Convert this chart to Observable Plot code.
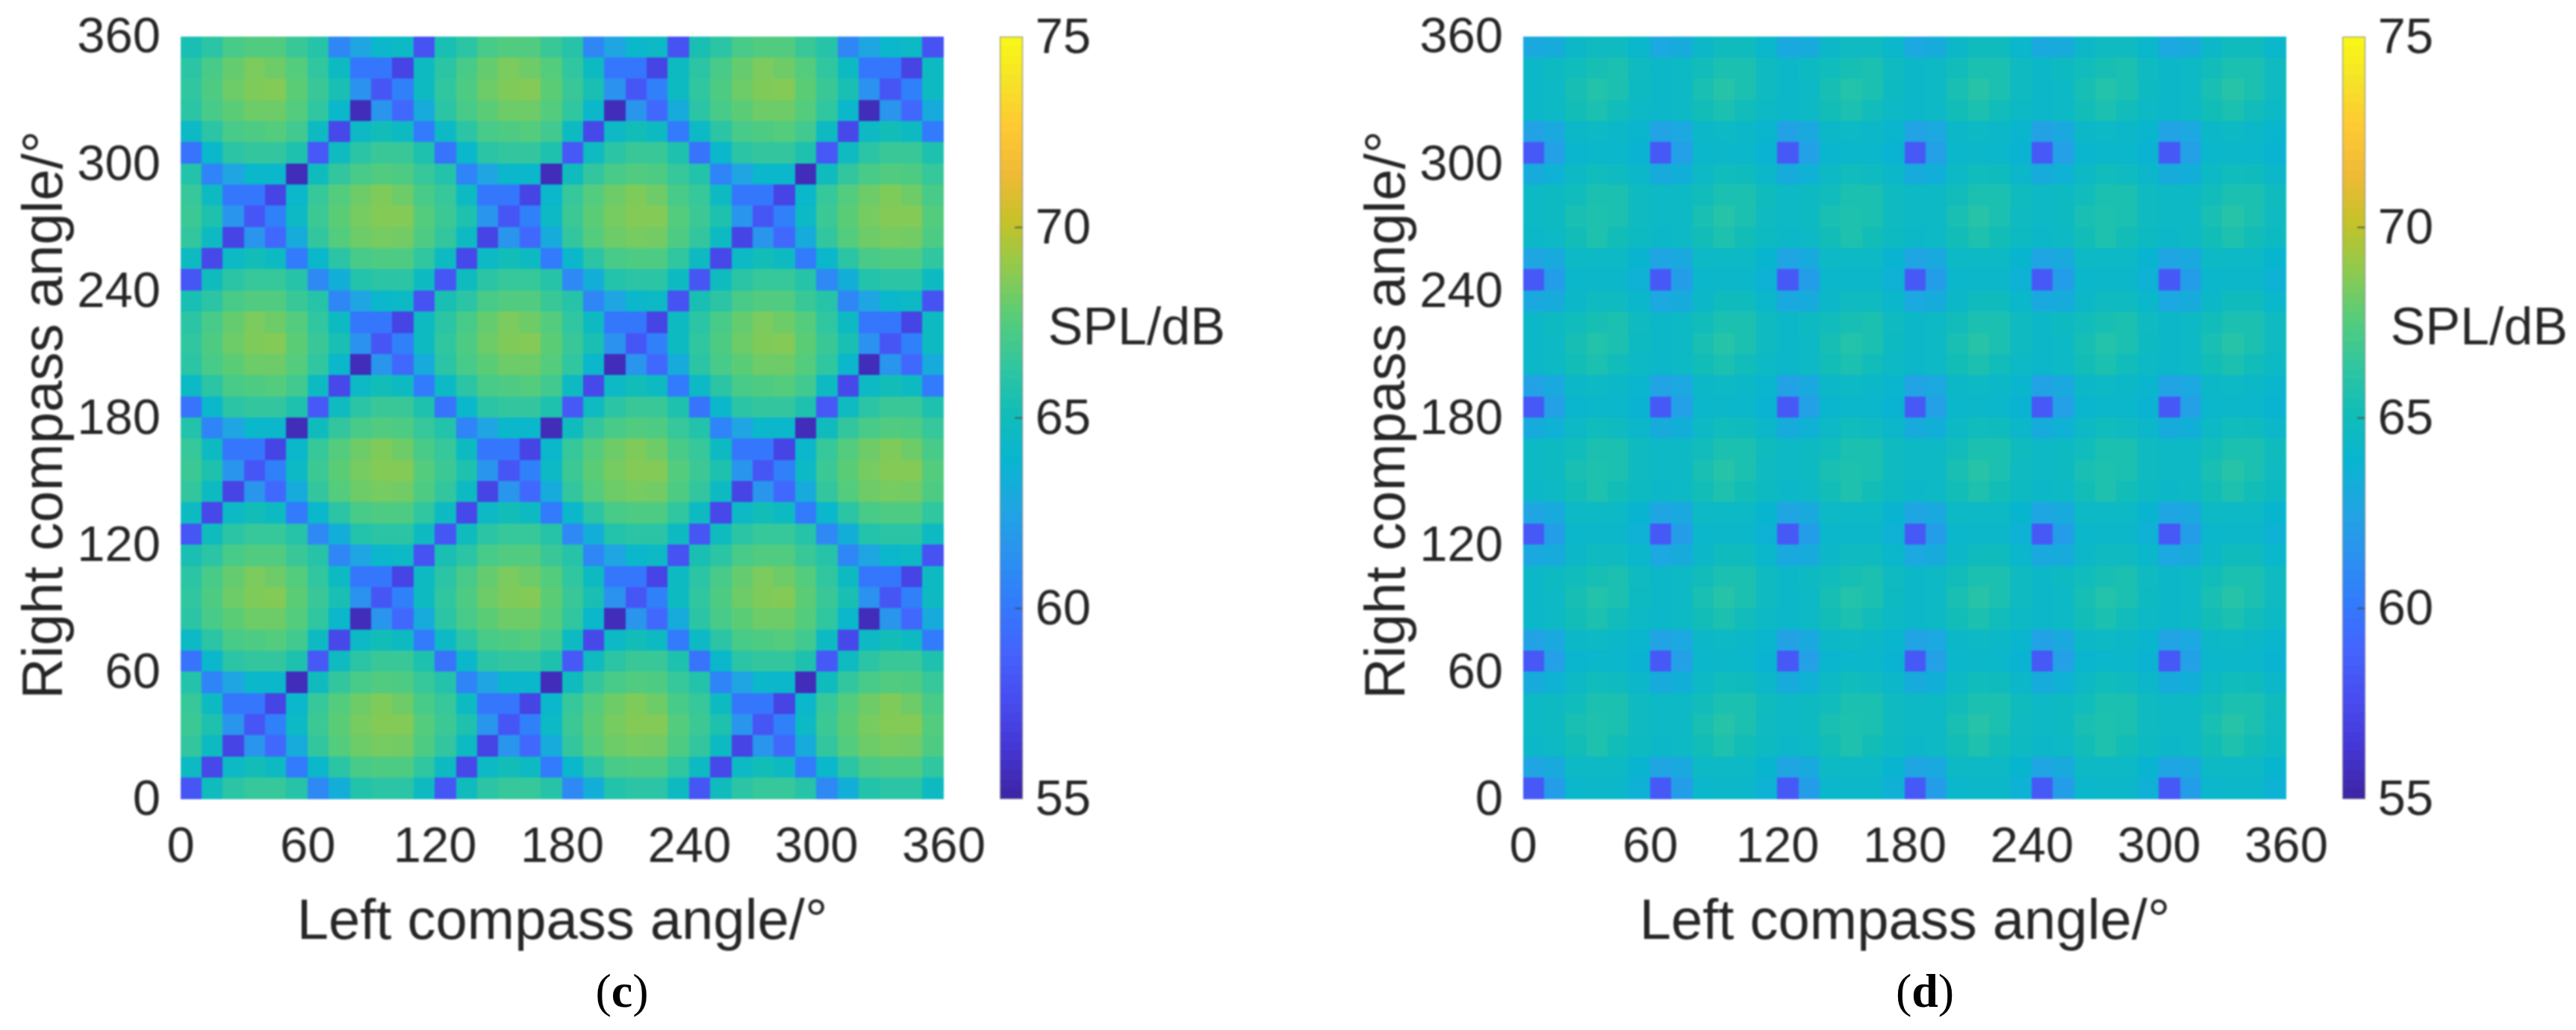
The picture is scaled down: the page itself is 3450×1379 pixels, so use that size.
<!DOCTYPE html>
<html><head><meta charset="utf-8">
<script src="https://cdn.jsdelivr.net/npm/d3@7"></script>
<script src="https://cdn.jsdelivr.net/npm/@observablehq/plot@0.6"></script>
<style>
html,body{margin:0;padding:0;background:#fff;width:3450px;height:1379px;overflow:hidden}
.p{position:absolute;top:0}
.p svg{overflow:visible;max-width:none;filter:blur(.9px)}
.cap{position:absolute;top:1290px;font:64px "Liberation Serif",serif;color:#000;transform:translateX(-50%);filter:blur(.5px)}
</style></head><body>
<script>
const angleTicks = [0,60,120,180,240,300,360];
const colorTicks = [55,60,65,70,75];
const innerTicks = [60,65,70];
const parula = ["#3e26a8","#4537d5","#474df0","#4563fd","#327bfc","#2b91ef","#20a5e3","#08b5d0","#12bdb8","#31c69f","#57cc7a","#8fca4e","#c5c22a","#efba36","#fec934","#f5e327","#f9fb14"];

// SPL/dB by cell; rows run from 350–360° at the top to 0–10° at the bottom, columns from 0° to 360°.
const panelC = [
[65.3,66,67,67.3,67.3,66.5,65.8,60.7,62.5,64,64.3,57.8,65.3,66,67,67.3,67.3,66.5,65.8,60.7,62.5,64,64.3,57.8,65.3,66,67,67.3,67.3,66.5,65.8,60.7,62.5,64,64.3,57.8],
[66,67,67.8,68.3,68,67.4,66.2,64.5,59.8,59.8,57,64.5,66,67,67.8,68.3,68,67.4,66.2,64.5,59.8,59.8,57,64.5,66,67,67.8,68.3,68,67.4,66.2,64.5,59.8,59.8,57,64.5],
[66.2,67.2,68,68.4,68.5,67.6,66.5,65.3,61.3,58,60.3,64.5,66.2,67.2,68,68.4,68.5,67.6,66.5,65.3,61.3,58,60.3,64.5,66.2,67.2,68,68.4,68.5,67.6,66.5,65.3,61.3,58,60.3,64.5],
[66,67,67.6,68,68,67.4,66.2,64,55.5,61.5,59,63,66,67,67.6,68,68,67.4,66.2,64,55.5,61.5,59,63,66,67,67.6,68,68,67.4,66.2,64,55.5,61.5,59,63],
[64.3,66,67,67.2,67.4,66.8,64.5,57.2,64.3,65,64.5,60,64.3,66,67,67.2,67.4,66.8,64.5,57.2,64.3,65,64.5,60,64.3,66,67,67.2,67.4,66.8,64.5,57.2,64.3,65,64.5,60],
[59.6,64,66,66.3,66.3,65.5,58.2,64.6,66,66.5,66.5,65.5,59.6,64,66,66.3,66.3,65.5,58.2,64.6,66,66.5,66.5,65.5,59.6,64,66,66.3,66.3,65.5,58.2,64.6,66,66.5,66.5,65.5],
[65.7,60.5,62.5,64,64,55.5,64.7,66.3,67,67.3,67.2,66.4,65.7,60.5,62.5,64,64,55.5,64.7,66.3,67,67.3,67.2,66.4,65.7,60.5,62.5,64,64,55.5,64.7,66.3,67,67.3,67.2,66.4],
[66.4,64.5,59.8,59.8,57,64,66.4,67.4,68,68.4,68,67,66.4,64.5,59.8,59.8,57,64,66.4,67.4,68,68.4,68,67,66.4,64.5,59.8,59.8,57,64,66.4,67.4,68,68.4,68,67],
[66.6,65.5,61.5,58,60.3,64.3,66.6,67.6,68.2,68.5,68.5,67.4,66.6,65.5,61.5,58,60.3,64.3,66.6,67.6,68.2,68.5,68.5,67.4,66.6,65.5,61.5,58,60.3,64.3,66.6,67.6,68.2,68.5,68.5,67.4],
[66.3,64.5,57,61.5,59,63,66.3,67.4,68,68.2,68.1,67.2,66.3,64.5,57,61.5,59,63,66.3,67.4,68,68.2,68.1,67.2,66.3,64.5,57,61.5,59,63,66.3,67.4,68,68.2,68.1,67.2],
[64.5,57.2,64.3,65,64.5,60,64,66,67,67.2,67.2,66.2,64.5,57.2,64.3,65,64.5,60,64,66,67,67.2,67.2,66.2,64.5,57.2,64.3,65,64.5,60,64,66,67,67.2,67.2,66.2],
[58,64.7,66,66.4,66.4,65.8,60.8,63.2,65.7,66,66,64.5,58,64.7,66,66.4,66.4,65.8,60.8,63.2,65.7,66,66,64.5,58,64.7,66,66.4,66.4,65.8,60.8,63.2,65.7,66,66,64.5],
[65.3,66,67,67.3,67.3,66.5,65.8,60.7,62.5,64,64.3,57.8,65.3,66,67,67.3,67.3,66.5,65.8,60.7,62.5,64,64.3,57.8,65.3,66,67,67.3,67.3,66.5,65.8,60.7,62.5,64,64.3,57.8],
[66,67,67.8,68.3,68,67.4,66.2,64.5,59.8,59.8,57,64.5,66,67,67.8,68.3,68,67.4,66.2,64.5,59.8,59.8,57,64.5,66,67,67.8,68.3,68,67.4,66.2,64.5,59.8,59.8,57,64.5],
[66.2,67.2,68,68.4,68.5,67.6,66.5,65.3,61.3,58,60.3,64.5,66.2,67.2,68,68.4,68.5,67.6,66.5,65.3,61.3,58,60.3,64.5,66.2,67.2,68,68.4,68.5,67.6,66.5,65.3,61.3,58,60.3,64.5],
[66,67,67.6,68,68,67.4,66.2,64,55.5,61.5,59,63,66,67,67.6,68,68,67.4,66.2,64,55.5,61.5,59,63,66,67,67.6,68,68,67.4,66.2,64,55.5,61.5,59,63],
[64.3,66,67,67.2,67.4,66.8,64.5,57.2,64.3,65,64.5,60,64.3,66,67,67.2,67.4,66.8,64.5,57.2,64.3,65,64.5,60,64.3,66,67,67.2,67.4,66.8,64.5,57.2,64.3,65,64.5,60],
[59.6,64,66,66.3,66.3,65.5,58.2,64.6,66,66.5,66.5,65.5,59.6,64,66,66.3,66.3,65.5,58.2,64.6,66,66.5,66.5,65.5,59.6,64,66,66.3,66.3,65.5,58.2,64.6,66,66.5,66.5,65.5],
[65.7,60.5,62.5,64,64,55.5,64.7,66.3,67,67.3,67.2,66.4,65.7,60.5,62.5,64,64,55.5,64.7,66.3,67,67.3,67.2,66.4,65.7,60.5,62.5,64,64,55.5,64.7,66.3,67,67.3,67.2,66.4],
[66.4,64.5,59.8,59.8,57,64,66.4,67.4,68,68.4,68,67,66.4,64.5,59.8,59.8,57,64,66.4,67.4,68,68.4,68,67,66.4,64.5,59.8,59.8,57,64,66.4,67.4,68,68.4,68,67],
[66.6,65.5,61.5,58,60.3,64.3,66.6,67.6,68.2,68.5,68.5,67.4,66.6,65.5,61.5,58,60.3,64.3,66.6,67.6,68.2,68.5,68.5,67.4,66.6,65.5,61.5,58,60.3,64.3,66.6,67.6,68.2,68.5,68.5,67.4],
[66.3,64.5,57,61.5,59,63,66.3,67.4,68,68.2,68.1,67.2,66.3,64.5,57,61.5,59,63,66.3,67.4,68,68.2,68.1,67.2,66.3,64.5,57,61.5,59,63,66.3,67.4,68,68.2,68.1,67.2],
[64.5,57.2,64.3,65,64.5,60,64,66,67,67.2,67.2,66.2,64.5,57.2,64.3,65,64.5,60,64,66,67,67.2,67.2,66.2,64.5,57.2,64.3,65,64.5,60,64,66,67,67.2,67.2,66.2],
[58,64.7,66,66.4,66.4,65.8,60.8,63.2,65.7,66,66,64.5,58,64.7,66,66.4,66.4,65.8,60.8,63.2,65.7,66,66,64.5,58,64.7,66,66.4,66.4,65.8,60.8,63.2,65.7,66,66,64.5],
[65.3,66,67,67.3,67.3,66.5,65.8,60.7,62.5,64,64.3,57.8,65.3,66,67,67.3,67.3,66.5,65.8,60.7,62.5,64,64.3,57.8,65.3,66,67,67.3,67.3,66.5,65.8,60.7,62.5,64,64.3,57.8],
[66,67,67.8,68.3,68,67.4,66.2,64.5,59.8,59.8,57,64.5,66,67,67.8,68.3,68,67.4,66.2,64.5,59.8,59.8,57,64.5,66,67,67.8,68.3,68,67.4,66.2,64.5,59.8,59.8,57,64.5],
[66.2,67.2,68,68.4,68.5,67.6,66.5,65.3,61.3,58,60.3,64.5,66.2,67.2,68,68.4,68.5,67.6,66.5,65.3,61.3,58,60.3,64.5,66.2,67.2,68,68.4,68.5,67.6,66.5,65.3,61.3,58,60.3,64.5],
[66,67,67.6,68,68,67.4,66.2,64,55.5,61.5,59,63,66,67,67.6,68,68,67.4,66.2,64,55.5,61.5,59,63,66,67,67.6,68,68,67.4,66.2,64,55.5,61.5,59,63],
[64.3,66,67,67.2,67.4,66.8,64.5,57.2,64.3,65,64.5,60,64.3,66,67,67.2,67.4,66.8,64.5,57.2,64.3,65,64.5,60,64.3,66,67,67.2,67.4,66.8,64.5,57.2,64.3,65,64.5,60],
[59.6,64,66,66.3,66.3,65.5,58.2,64.6,66,66.5,66.5,65.5,59.6,64,66,66.3,66.3,65.5,58.2,64.6,66,66.5,66.5,65.5,59.6,64,66,66.3,66.3,65.5,58.2,64.6,66,66.5,66.5,65.5],
[65.7,60.5,62.5,64,64,55.5,64.7,66.3,67,67.3,67.2,66.4,65.7,60.5,62.5,64,64,55.5,64.7,66.3,67,67.3,67.2,66.4,65.7,60.5,62.5,64,64,55.5,64.7,66.3,67,67.3,67.2,66.4],
[66.4,64.5,59.8,59.8,57,64,66.4,67.4,68,68.4,68,67,66.4,64.5,59.8,59.8,57,64,66.4,67.4,68,68.4,68,67,66.4,64.5,59.8,59.8,57,64,66.4,67.4,68,68.4,68,67],
[66.6,65.5,61.5,58,60.3,64.3,66.6,67.6,68.2,68.5,68.5,67.4,66.6,65.5,61.5,58,60.3,64.3,66.6,67.6,68.2,68.5,68.5,67.4,66.6,65.5,61.5,58,60.3,64.3,66.6,67.6,68.2,68.5,68.5,67.4],
[66.3,64.5,57,61.5,59,63,66.3,67.4,68,68.2,68.1,67.2,66.3,64.5,57,61.5,59,63,66.3,67.4,68,68.2,68.1,67.2,66.3,64.5,57,61.5,59,63,66.3,67.4,68,68.2,68.1,67.2],
[64.5,57.2,64.3,65,64.5,60,64,66,67,67.2,67.2,66.2,64.5,57.2,64.3,65,64.5,60,64,66,67,67.2,67.2,66.2,64.5,57.2,64.3,65,64.5,60,64,66,67,67.2,67.2,66.2],
[58,64.7,66,66.4,66.4,65.8,60.8,63.2,65.7,66,66,64.5,58,64.7,66,66.4,66.4,65.8,60.8,63.2,65.7,66,66,64.5,58,64.7,66,66.4,66.4,65.8,60.8,63.2,65.7,66,66,64.5]
];

const panelD = [
[62.8,63,64.2,64.6,64.6,64,62.7,63,64.2,64.7,64.7,64,62.8,63,64.2,64.6,64.6,64,62.7,63,64.2,64.7,64.7,64,62.8,63,64.2,64.6,64.6,64,62.7,63,64.2,64.7,64.7,64],
[64.2,64.5,64.8,65.2,65.4,64.6,64.2,64.4,64.9,65.4,65.4,64.6,64.2,64.5,64.8,65.2,65.4,64.6,64.2,64.4,64.9,65.4,65.4,64.6,64.2,64.5,64.8,65.2,65.4,64.6,64.2,64.4,64.9,65.4,65.4,64.6],
[64.2,64.4,65.2,65.7,65.4,64.5,64.2,64.4,65.3,65.8,65.4,64.6,64.2,64.4,65.2,65.7,65.4,64.5,64.2,64.4,65.3,65.8,65.4,64.6,64.2,64.4,65.2,65.7,65.4,64.5,64.2,64.4,65.3,65.8,65.4,64.6],
[64.1,64.3,65,65.4,64.9,64.4,64.1,64.3,65,65.4,64.9,64.4,64.1,64.3,65,65.4,64.9,64.4,64.1,64.3,65,65.4,64.9,64.4,64.1,64.3,65,65.4,64.9,64.4,64.1,64.3,65,65.4,64.9,64.4],
[62.3,62.8,64.2,64.3,64.2,63.9,62.4,62.7,64.2,64.4,64.2,63.9,62.3,62.8,64.2,64.3,64.2,63.9,62.4,62.7,64.2,64.4,64.2,63.9,62.3,62.8,64.2,64.3,64.2,63.9,62.4,62.7,64.2,64.4,64.2,63.9],
[58.2,62.2,63.9,64,64,63.6,58.2,62.2,64,64.1,64,63.6,58.2,62.2,63.9,64,64,63.6,58.2,62.2,64,64.1,64,63.6,58.2,62.2,63.9,64,64,63.6,58.2,62.2,64,64.1,64,63.6],
[63,63.4,64.4,64.8,64.6,64.1,63,63.3,64.4,64.8,64.7,64.1,63,63.4,64.4,64.8,64.6,64.1,63,63.3,64.4,64.8,64.7,64.1,63,63.4,64.4,64.8,64.6,64.1,63,63.3,64.4,64.8,64.7,64.1],
[64.3,64.5,64.8,65.4,65.4,64.6,64.3,64.4,64.9,65.4,65.4,64.7,64.3,64.5,64.8,65.4,65.4,64.6,64.3,64.4,64.9,65.4,65.4,64.7,64.3,64.5,64.8,65.4,65.4,64.6,64.3,64.4,64.9,65.4,65.4,64.7],
[64.3,64.5,65.3,65.5,65.4,64.6,64.3,64.4,65.3,65.8,65.4,64.6,64.3,64.5,65.3,65.5,65.4,64.6,64.3,64.4,65.3,65.8,65.4,64.6,64.3,64.5,65.3,65.5,65.4,64.6,64.3,64.4,65.3,65.8,65.4,64.6],
[64.2,64.4,65,65.5,65,64.5,64.2,64.4,65,65.5,65,64.5,64.2,64.4,65,65.5,65,64.5,64.2,64.4,65,65.5,65,64.5,64.2,64.4,65,65.5,65,64.5,64.2,64.4,65,65.5,65,64.5],
[62.5,62.9,64.3,64.4,64.3,63.7,62.5,62.8,64.3,64.4,64.3,63.8,62.5,62.9,64.3,64.4,64.3,63.7,62.5,62.8,64.3,64.4,64.3,63.8,62.5,62.9,64.3,64.4,64.3,63.7,62.5,62.8,64.3,64.4,64.3,63.8],
[58.2,62,64,64.1,64.1,63.4,58.2,62,64,64.1,64.1,63.5,58.2,62,64,64.1,64.1,63.4,58.2,62,64,64.1,64.1,63.5,58.2,62,64,64.1,64.1,63.4,58.2,62,64,64.1,64.1,63.5],
[62.8,63,64.2,64.6,64.6,64,62.7,63,64.2,64.7,64.7,64,62.8,63,64.2,64.6,64.6,64,62.7,63,64.2,64.7,64.7,64,62.8,63,64.2,64.6,64.6,64,62.7,63,64.2,64.7,64.7,64],
[64.2,64.5,64.8,65.2,65.4,64.6,64.2,64.4,64.9,65.4,65.4,64.6,64.2,64.5,64.8,65.2,65.4,64.6,64.2,64.4,64.9,65.4,65.4,64.6,64.2,64.5,64.8,65.2,65.4,64.6,64.2,64.4,64.9,65.4,65.4,64.6],
[64.2,64.4,65.2,65.7,65.4,64.5,64.2,64.4,65.3,65.8,65.4,64.6,64.2,64.4,65.2,65.7,65.4,64.5,64.2,64.4,65.3,65.8,65.4,64.6,64.2,64.4,65.2,65.7,65.4,64.5,64.2,64.4,65.3,65.8,65.4,64.6],
[64.1,64.3,65,65.4,64.9,64.4,64.1,64.3,65,65.4,64.9,64.4,64.1,64.3,65,65.4,64.9,64.4,64.1,64.3,65,65.4,64.9,64.4,64.1,64.3,65,65.4,64.9,64.4,64.1,64.3,65,65.4,64.9,64.4],
[62.3,62.8,64.2,64.3,64.2,63.9,62.4,62.7,64.2,64.4,64.2,63.9,62.3,62.8,64.2,64.3,64.2,63.9,62.4,62.7,64.2,64.4,64.2,63.9,62.3,62.8,64.2,64.3,64.2,63.9,62.4,62.7,64.2,64.4,64.2,63.9],
[58.2,62.2,63.9,64,64,63.6,58.2,62.2,64,64.1,64,63.6,58.2,62.2,63.9,64,64,63.6,58.2,62.2,64,64.1,64,63.6,58.2,62.2,63.9,64,64,63.6,58.2,62.2,64,64.1,64,63.6],
[63,63.4,64.4,64.8,64.6,64.1,63,63.3,64.4,64.8,64.7,64.1,63,63.4,64.4,64.8,64.6,64.1,63,63.3,64.4,64.8,64.7,64.1,63,63.4,64.4,64.8,64.6,64.1,63,63.3,64.4,64.8,64.7,64.1],
[64.3,64.5,64.8,65.4,65.4,64.6,64.3,64.4,64.9,65.4,65.4,64.7,64.3,64.5,64.8,65.4,65.4,64.6,64.3,64.4,64.9,65.4,65.4,64.7,64.3,64.5,64.8,65.4,65.4,64.6,64.3,64.4,64.9,65.4,65.4,64.7],
[64.3,64.5,65.3,65.5,65.4,64.6,64.3,64.4,65.3,65.8,65.4,64.6,64.3,64.5,65.3,65.5,65.4,64.6,64.3,64.4,65.3,65.8,65.4,64.6,64.3,64.5,65.3,65.5,65.4,64.6,64.3,64.4,65.3,65.8,65.4,64.6],
[64.2,64.4,65,65.5,65,64.5,64.2,64.4,65,65.5,65,64.5,64.2,64.4,65,65.5,65,64.5,64.2,64.4,65,65.5,65,64.5,64.2,64.4,65,65.5,65,64.5,64.2,64.4,65,65.5,65,64.5],
[62.5,62.9,64.3,64.4,64.3,63.7,62.5,62.8,64.3,64.4,64.3,63.8,62.5,62.9,64.3,64.4,64.3,63.7,62.5,62.8,64.3,64.4,64.3,63.8,62.5,62.9,64.3,64.4,64.3,63.7,62.5,62.8,64.3,64.4,64.3,63.8],
[58.2,62,64,64.1,64.1,63.4,58.2,62,64,64.1,64.1,63.5,58.2,62,64,64.1,64.1,63.4,58.2,62,64,64.1,64.1,63.5,58.2,62,64,64.1,64.1,63.4,58.2,62,64,64.1,64.1,63.5],
[62.8,63,64.2,64.6,64.6,64,62.7,63,64.2,64.7,64.7,64,62.8,63,64.2,64.6,64.6,64,62.7,63,64.2,64.7,64.7,64,62.8,63,64.2,64.6,64.6,64,62.7,63,64.2,64.7,64.7,64],
[64.2,64.5,64.8,65.2,65.4,64.6,64.2,64.4,64.9,65.4,65.4,64.6,64.2,64.5,64.8,65.2,65.4,64.6,64.2,64.4,64.9,65.4,65.4,64.6,64.2,64.5,64.8,65.2,65.4,64.6,64.2,64.4,64.9,65.4,65.4,64.6],
[64.2,64.4,65.2,65.7,65.4,64.5,64.2,64.4,65.3,65.8,65.4,64.6,64.2,64.4,65.2,65.7,65.4,64.5,64.2,64.4,65.3,65.8,65.4,64.6,64.2,64.4,65.2,65.7,65.4,64.5,64.2,64.4,65.3,65.8,65.4,64.6],
[64.1,64.3,65,65.4,64.9,64.4,64.1,64.3,65,65.4,64.9,64.4,64.1,64.3,65,65.4,64.9,64.4,64.1,64.3,65,65.4,64.9,64.4,64.1,64.3,65,65.4,64.9,64.4,64.1,64.3,65,65.4,64.9,64.4],
[62.3,62.8,64.2,64.3,64.2,63.9,62.4,62.7,64.2,64.4,64.2,63.9,62.3,62.8,64.2,64.3,64.2,63.9,62.4,62.7,64.2,64.4,64.2,63.9,62.3,62.8,64.2,64.3,64.2,63.9,62.4,62.7,64.2,64.4,64.2,63.9],
[58.2,62.2,63.9,64,64,63.6,58.2,62.2,64,64.1,64,63.6,58.2,62.2,63.9,64,64,63.6,58.2,62.2,64,64.1,64,63.6,58.2,62.2,63.9,64,64,63.6,58.2,62.2,64,64.1,64,63.6],
[63,63.4,64.4,64.8,64.6,64.1,63,63.3,64.4,64.8,64.7,64.1,63,63.4,64.4,64.8,64.6,64.1,63,63.3,64.4,64.8,64.7,64.1,63,63.4,64.4,64.8,64.6,64.1,63,63.3,64.4,64.8,64.7,64.1],
[64.3,64.5,64.8,65.4,65.4,64.6,64.3,64.4,64.9,65.4,65.4,64.7,64.3,64.5,64.8,65.4,65.4,64.6,64.3,64.4,64.9,65.4,65.4,64.7,64.3,64.5,64.8,65.4,65.4,64.6,64.3,64.4,64.9,65.4,65.4,64.7],
[64.3,64.5,65.3,65.5,65.4,64.6,64.3,64.4,65.3,65.8,65.4,64.6,64.3,64.5,65.3,65.5,65.4,64.6,64.3,64.4,65.3,65.8,65.4,64.6,64.3,64.5,65.3,65.5,65.4,64.6,64.3,64.4,65.3,65.8,65.4,64.6],
[64.2,64.4,65,65.5,65,64.5,64.2,64.4,65,65.5,65,64.5,64.2,64.4,65,65.5,65,64.5,64.2,64.4,65,65.5,65,64.5,64.2,64.4,65,65.5,65,64.5,64.2,64.4,65,65.5,65,64.5],
[62.5,62.9,64.3,64.4,64.3,63.7,62.5,62.8,64.3,64.4,64.3,63.8,62.5,62.9,64.3,64.4,64.3,63.7,62.5,62.8,64.3,64.4,64.3,63.8,62.5,62.9,64.3,64.4,64.3,63.7,62.5,62.8,64.3,64.4,64.3,63.8],
[58.2,62,64,64.1,64.1,63.4,58.2,62,64,64.1,64.1,63.5,58.2,62,64,64.1,64.1,63.4,58.2,62,64,64.1,64.1,63.5,58.2,62,64,64.1,64.1,63.4,58.2,62,64,64.1,64.1,63.5]
];

const font = '"Liberation Sans",Arial,sans-serif';
const ink = "#262626";
const colorScale = {type:"linear", domain:[55,75], interpolate:d3.piecewise(d3.interpolateRgb, parula)};

function heatmap(rows, left){
  const cells = rows.flatMap((row,r)=>row.map((v,c)=>({x1:c*10,x2:c*10+10,y1:(35-r)*10,y2:(35-r)*10+10,v})));
  const plot = Plot.plot({
    width:1290, height:1290, marginLeft:241.5, marginRight:26.5, marginTop:48.5, marginBottom:220.5,
    style:{fontFamily:font, color:ink, background:"none"},
    x:{type:"linear", domain:[0,360], axis:null},
    y:{type:"linear", domain:[0,360], axis:null},
    color:colorScale,
    marks:[
      Plot.rect(cells,{x1:"x1",x2:"x2",y1:"y1",y2:"y2",fill:"v",shapeRendering:"crispEdges"}),
      Plot.axisX(angleTicks,{anchor:"bottom",tickSize:0,tickPadding:36,fontSize:67,label:null,fill:ink}),
      Plot.axisY(angleTicks,{anchor:"left",tickSize:0,tickPadding:27,fontSize:67,label:null,fill:ink}),
      Plot.text(["Left compass angle/°"],{frameAnchor:"bottom",dy:187,fontSize:76,fill:ink,lineAnchor:"bottom"}),
      Plot.text(["Right compass angle/°"],{frameAnchor:"left",dx:-183,dy:-4,textAnchor:"middle",rotate:-90,fontSize:76,fill:ink,lineAnchor:"middle"})
    ]
  });
  const d = document.createElement("div"); d.className="p"; d.style.left=left+"px"; d.appendChild(plot);
  document.body.appendChild(d);
}

function colorbar(left){
  const levels = d3.range(55,75,0.25);
  const plot = Plot.plot({
    width:310, height:1100, marginLeft:0, marginRight:280, marginTop:49, marginBottom:31,
    style:{fontFamily:font, color:ink, background:"none"},
    x:{type:"linear", domain:[0,1], axis:null},
    y:{type:"linear", domain:[55,75], axis:null},
    color:colorScale,
    marks:[
      Plot.rect(levels,{x1:0,x2:1,y1:d=>d,y2:d=>d+0.25,fill:d=>d,shapeRendering:"crispEdges"}),
      Plot.frame({stroke:"#8a8a8a",strokeWidth:1}),
      Plot.ruleY(innerTicks,{x1:0.67,x2:1,stroke:"#444",strokeWidth:1.5}),
      Plot.axisY(colorTicks,{anchor:"right",tickSize:0,tickPadding:17,fontSize:67,label:null,fill:ink,tickFormat:"d"}),
      Plot.text(["SPL/dB"],{frameAnchor:"right",dx:34,dy:-121,textAnchor:"start",fontSize:70,fill:ink})
    ]
  });
  const d = document.createElement("div"); d.className="p"; d.style.left=left+"px"; d.appendChild(plot);
  document.body.appendChild(d);
}

heatmap(panelC,0);
heatmap(panelD,1798);
colorbar(1339);
colorbar(3137);

[["c",833],["d",2578]].forEach(([k,x])=>{
  const c=document.createElement("div"); c.className="cap"; c.style.left=x+"px";
  c.innerHTML="(<b>"+k+"</b>)"; document.body.appendChild(c);
});
</script>
</body></html>
